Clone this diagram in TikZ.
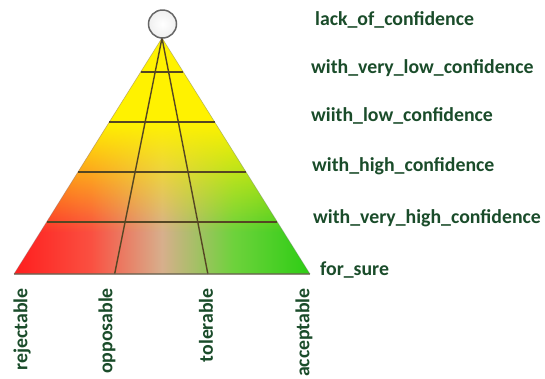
\documentclass[tikz,border=0pt]{standalone}
\usepackage{fontspec}
\setmainfont{Carlito}
\usetikzlibrary{fadings,calc}
\definecolor{lbl}{RGB}{26,76,42}
\definecolor{gridc}{RGB}{85,70,35}
\definecolor{rd}{RGB}{255,30,30}
\definecolor{rd2}{RGB}{250,80,65}
\definecolor{md}{RGB}{215,175,140}
\definecolor{gn2}{RGB}{110,210,60}
\definecolor{gn}{RGB}{45,205,20}
\pgfdeclarehorizontalshading{rgshade}{100bp}{color(0bp)=(rd); color(25bp)=(rd); color(38bp)=(rd2); color(50bp)=(md); color(62bp)=(gn2); color(75bp)=(gn); color(100bp)=(gn)}
\tikzfading[name=yfade, top color=transparent!0, bottom color=transparent!100]
\tikzfading[name=wfade, top color=transparent!100, middle color=transparent!68, bottom color=transparent!100]
\begin{document}
\begin{tikzpicture}[x=1bp,y=-1bp,
 lab/.style={font=\fontsize{19.8bp}{22bp}\selectfont\bfseries, text=lbl, inner sep=0pt},
 lvl/.style={lab, anchor=west},
 cat/.style={lab, rotate=90, anchor=east},
 gridline/.style={draw=gridc, line width=1.4bp}]
\useasboundingbox (0,0) rectangle (545,378);
\coordinate (A) at (162,38);
\coordinate (BL) at (14,274);
\coordinate (BR) at (310,274);
\shade[shading=rgshade] (A) -- (BL) -- (BR) -- cycle;
\begin{scope}
\clip (A) -- (BL) -- (BR) -- cycle;
\fill[yellow] (0,30) rectangle (330,122);
\fill[yellow, path fading=yfade] (0,122) rectangle (330,232);
\fill[white, path fading=wfade] (0,110) rectangle (330,274);
\end{scope}
\draw[gray, opacity=0.35, line width=0.8bp] (A) -- (BL) (A) -- (BR);
\foreach \t in {0.144,0.356,0.568,0.780} {
  \draw[gridline] ($(A)!\t!(BL)$) -- ($(A)!\t!(BR)$);
}
\coordinate (P1) at ($(BL)!0.34!(BR)$);
\coordinate (P2) at ($(BL)!0.655!(BR)$);
\draw[gridline] (A) -- (P1);
\draw[gridline] (A) -- (P2);
\draw[draw=gridc!50!gray, line width=1.2bp, opacity=0.7] (BL) -- (BR);
\node[circle, draw=gray!80!black, line width=1.5bp, inner color=white, outer color=gray!12, minimum size=28bp, inner sep=0pt] (ring) at (162.5,24) {};
\node[lvl] (l0) at (315,20) {lack\_of\_confidence};
\node[lvl] (l1) at (311,68) {with\_very\_low\_confidence};
\node[lvl] (l2) at (311,116) {wiith\_low\_confidence};
\node[lvl] (l3) at (312,166) {with\_high\_confidence};
\node[lvl] (l4) at (313,218) {with\_very\_high\_confidence};
\node[lvl] (l5) at (320,270) {for\_sure};
\node[cat] (c1) at (22,288) {rejectable};
\node[cat] (c2) at (107,288) {opposable};
\node[cat] (c3) at (206,288) {tolerable};
\node[cat] (c4) at (304,288) {acceptable};
\end{tikzpicture}
\end{document}
